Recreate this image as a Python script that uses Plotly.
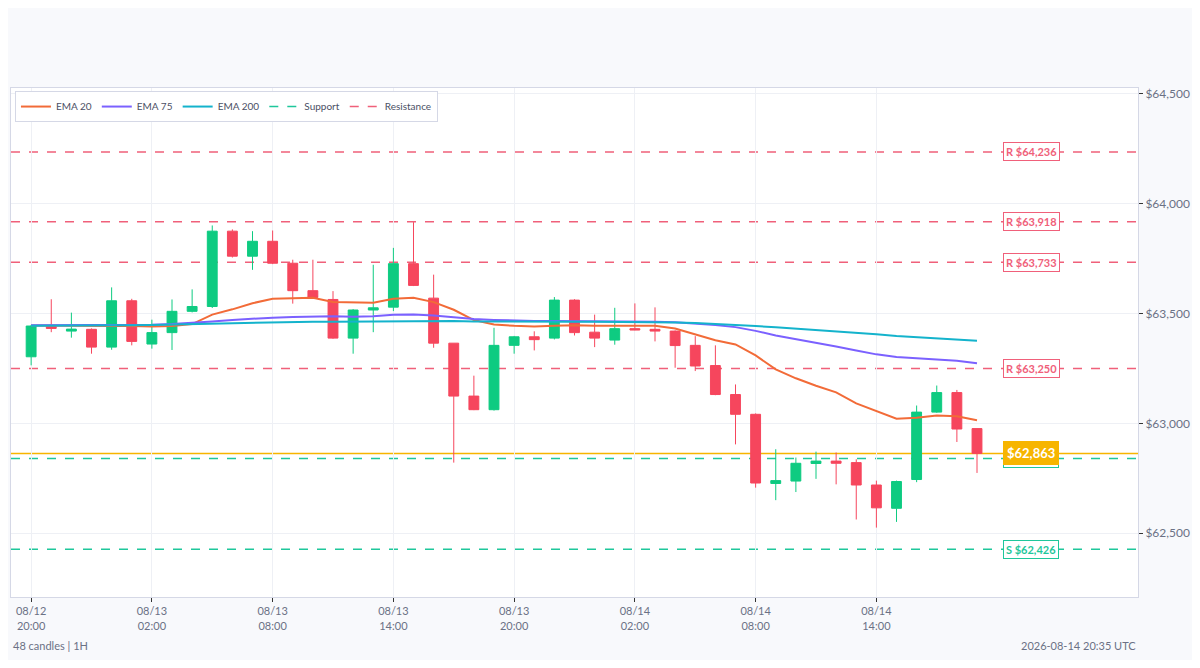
import pandas as pd
import plotly.graph_objects as go

# ---------------- data ----------------
start_time = "2026-08-12 20:00"
n_candles = 48
opens = [63303, 63440, 63420, 63428, 63347, 63558, 63361, 63413, 63510, 63532,
         63875, 63761, 63829, 63729, 63604, 63564, 63388, 63516, 63529, 63727,
         63570, 63365, 63124, 63062, 63355, 63394, 63388, 63561, 63415, 63379,
         63431, 63428, 63420, 63355, 63263, 63131, 63041, 62726, 62737, 62817,
         62828, 62821, 62719, 62613, 62744, 63051, 63140, 62976]
highs = [63448, 63565, 63504, 63432, 63619, 63567, 63472, 63564, 63610, 63901,
         63883, 63875, 63878, 63745, 63745, 63602, 63520, 63722, 63799, 63916,
         63677, 63365, 63217, 63435, 63398, 63419, 63575, 63565, 63495, 63526,
         63546, 63528, 63423, 63397, 63355, 63177, 63045, 62882, 62844, 62871,
         62867, 62836, 62739, 62739, 63081, 63172, 63152, 62976]
lows = [63264, 63415, 63390, 63317, 63335, 63355, 63340, 63334, 63505, 63525,
        63755, 63699, 63725, 63545, 63568, 63385, 63317, 63415, 63511, 63625,
        63344, 62821, 63060, 63058, 63317, 63332, 63382, 63400, 63347, 63358,
        63424, 63373, 63253, 63238, 63128, 62904, 62707, 62650, 62687, 62747,
        62722, 62562, 62525, 62551, 62732, 63048, 62915, 62774]
closes = [63443, 63432, 63429, 63347, 63558, 63373, 63413, 63510, 63532, 63875,
          63761, 63829, 63729, 63604, 63573, 63388, 63516, 63526, 63727, 63628,
          63365, 63124, 63062, 63355, 63394, 63381, 63561, 63413, 63388, 63431,
          63425, 63420, 63354, 63261, 63131, 63041, 62728, 62739, 62818, 62828,
          62818, 62719, 62615, 62735, 63051, 63140, 62974, 62863]
ema20 = [63445, 63444, 63443, 63441, 63443, 63443, 63441, 63443, 63452, 63495,
         63519, 63547, 63567, 63570, 63572, 63552, 63549, 63549, 63567, 63572,
         63552, 63517, 63470, 63450, 63444, 63441, 63444, 63446, 63444, 63444,
         63446, 63444, 63432, 63405, 63378, 63359, 63309, 63246, 63205, 63171,
         63141, 63091, 63055, 63021, 63025, 63036, 63032, 63014]
ema75 = [63446, 63446, 63446, 63446, 63446, 63447, 63449, 63452, 63457, 63464,
         63471, 63477, 63481, 63484, 63486, 63487, 63485, 63487, 63494, 63496,
         63491, 63482, 63475, 63471, 63467, 63466, 63466, 63466, 63466, 63466,
         63465, 63463, 63460, 63455, 63448, 63438, 63421, 63400, 63384, 63369,
         63350, 63332, 63314, 63302, 63297, 63292, 63285, 63274]
ema200 = [63444, 63444, 63445, 63445, 63446, 63447, 63448, 63450, 63453, 63455,
          63457, 63458, 63460, 63462, 63463, 63463, 63464, 63465, 63466, 63467,
          63467, 63466, 63464, 63463, 63462, 63462, 63462, 63462, 63462, 63462,
          63462, 63461, 63459, 63457, 63453, 63448, 63443, 63437, 63431, 63425,
          63420, 63414, 63406, 63398, 63393, 63387, 63381, 63376]
resistance_levels = [64236, 63918, 63733, 63250]
support_levels = [62840, 62426]
current_price = 62863
y_ticks = [62500, 63000, 63500, 64000, 64500]
footer_left = "48 candles | 1H"
footer_right = "2026-08-14 20:35 UTC"

# ---------------- styling ----------------
FONT = "Lato, 'Source Sans Pro', sans-serif"
UP = "#0ecb81"
DOWN = "#f6465d"
C_EMA20 = "#f26b38"
C_EMA75 = "#7b61ff"
C_EMA200 = "#14b3cc"
C_SUP = "#1fc79b"
C_RES = "#f0607a"
C_PRICE = "#f7b500"
TXT = "#6b7185"

times = pd.date_range(start_time, periods=n_candles, freq="h")
x_start = times[0] - pd.Timedelta(hours=1)
x_end = times[-1] + pd.Timedelta(hours=8)
label_x = times[-1] + pd.Timedelta(hours=2.7)
x_tickvals = list(times[::6])

fig = go.Figure()

fig.add_trace(go.Candlestick(
    x=times, open=opens, high=highs, low=lows, close=closes,
    increasing=dict(line=dict(color=UP, width=1), fillcolor=UP),
    decreasing=dict(line=dict(color=DOWN, width=1), fillcolor=DOWN),
    showlegend=False, name="Price", whiskerwidth=0,
))

for name, vals, col in [("EMA 20", ema20, C_EMA20), ("EMA 75", ema75, C_EMA75), ("EMA 200", ema200, C_EMA200)]:
    fig.add_trace(go.Scatter(x=times, y=vals, mode="lines", name=name,
                             line=dict(color=col, width=2)))

# legend-only entries for levels
fig.add_trace(go.Scatter(x=[None], y=[None], mode="lines", name="Support",
                         line=dict(color=C_SUP, width=1.5, dash="dash")))
fig.add_trace(go.Scatter(x=[None], y=[None], mode="lines", name="Resistance",
                         line=dict(color=C_RES, width=1.5, dash="dash")))

shapes = []
annotations = []
for lv in resistance_levels:
    shapes.append(dict(type="line", xref="paper", x0=0, x1=1, yref="y", y0=lv, y1=lv,
                       line=dict(color=C_RES, width=1.5, dash="dash"), layer="below"))
    annotations.append(dict(x=label_x, y=lv, xref="x", yref="y", text=f"<b>R ${lv:,}</b>",
                            showarrow=False, font=dict(color=C_RES, size=11, family=FONT),
                            bgcolor="white", bordercolor=C_RES, borderwidth=1, borderpad=2))
for lv in support_levels:
    shapes.append(dict(type="line", xref="paper", x0=0, x1=1, yref="y", y0=lv, y1=lv,
                       line=dict(color=C_SUP, width=1.5, dash="dash"), layer="below"))
    annotations.append(dict(x=label_x, y=lv, xref="x", yref="y", text=f"<b>S ${lv:,}</b>",
                            showarrow=False, font=dict(color=C_SUP, size=11, family=FONT),
                            bgcolor="white", bordercolor=C_SUP, borderwidth=1, borderpad=2))

shapes.append(dict(type="line", xref="paper", x0=0, x1=1, yref="y", y0=current_price, y1=current_price,
                   line=dict(color=C_PRICE, width=1.5), layer="below"))
annotations.append(dict(x=label_x, y=current_price, xref="x", yref="y", text=f"<b>${current_price:,}</b>",
                        showarrow=False, font=dict(color="white", size=13, family=FONT),
                        bgcolor=C_PRICE, bordercolor=C_PRICE, borderwidth=1, borderpad=3))

annotations.append(dict(x=0, y=0, xref="paper", yref="paper", yshift=-48, xanchor="left", yanchor="middle",
                        text=footer_left, showarrow=False, font=dict(color=TXT, size=11, family=FONT)))
annotations.append(dict(x=1, y=0, xref="paper", yref="paper", yshift=-48, xanchor="right", yanchor="middle",
                        text=footer_right, showarrow=False, font=dict(color=TXT, size=11, family=FONT)))

fig.update_layout(
    width=1184, height=652,
    margin=dict(l=2, r=52, t=80, b=63),
    paper_bgcolor="#f8f9fc", plot_bgcolor="white",
    font=dict(family=FONT, color=TXT, size=11),
    shapes=shapes, annotations=annotations,
    legend=dict(orientation="h", x=0.0035, y=0.994, xanchor="left", yanchor="top",
                bgcolor="white", bordercolor="#d5d8e6", borderwidth=1,
                font=dict(size=10, color="#4b5065", family=FONT), itemwidth=30),
    hovermode="x",
    xaxis=dict(
        type="date", range=[x_start, x_end], rangeslider=dict(visible=False),
        tickmode="array", tickvals=x_tickvals,
        ticktext=[t.strftime("%m/%d<br>%H:%M") for t in x_tickvals],
        showgrid=True, gridcolor="#eef0f5", gridwidth=1,
        showline=True, linecolor="#d5d8e6", linewidth=1, mirror=True,
        ticks="outside", ticklen=4, tickcolor="#333", tickfont=dict(size=11, color=TXT),
        zeroline=False,
    ),
    yaxis=dict(
        side="right", range=[62209, 64527], tickvals=y_ticks,
        ticktext=[f"${v:,}" for v in y_ticks],
        showgrid=True, gridcolor="#eef0f5", gridwidth=1,
        showline=True, linecolor="#d5d8e6", linewidth=1, mirror=True,
        ticks="outside", ticklen=4, tickcolor="#333", tickfont=dict(size=12, color=TXT),
        zeroline=False,
    ),
)

fig.write_html("out.html")
